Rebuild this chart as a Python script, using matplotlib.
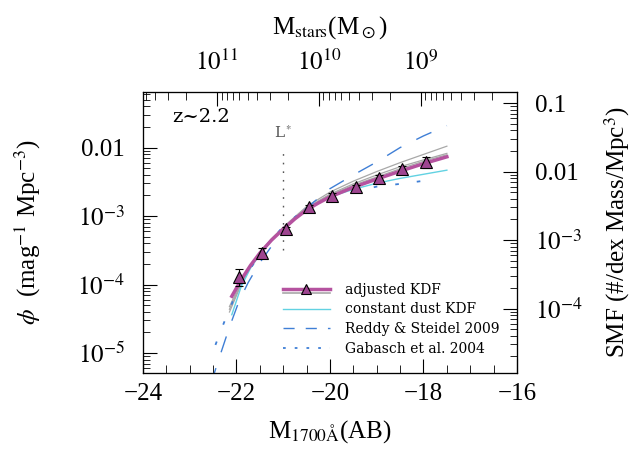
import numpy as np
import matplotlib
matplotlib.use('Agg')
import matplotlib.pyplot as plt
from matplotlib.lines import Line2D
from matplotlib.legend_handler import HandlerBase
from matplotlib.ticker import FuncFormatter, NullFormatter, MultipleLocator, LogLocator

plt.rcParams['font.family'] = 'Liberation Serif'
plt.rcParams['mathtext.fontset'] = 'stix'

# ---- data (log10 phi) ----
kdf_mag = [-21.95, -21.45, -20.95, -20.45, -19.95, -19.45, -18.95, -18.45, -17.95]
kdf_logphi = [-3.886, -3.536, -3.194, -2.864, -2.703, -2.577, -2.441, -2.314, -2.216]
kdf_loghi = [-3.774, -3.473, -3.156, -2.835, -2.669, -2.543, -2.401, -2.270, -2.134]
kdf_loglo = [-4.022, -3.600, -3.244, -2.912, -2.747, -2.620, -2.484, -2.368, -2.304]

adj_mag = [-22.1, -21.9, -21.7, -21.5, -21.25, -21.0, -20.75, -20.5, -20.25, -20.0, -19.5, -19.0, -18.5, -18.0, -17.5]
adj_logphi = [-4.17, -3.93, -3.72, -3.54, -3.35, -3.19, -3.04, -2.91, -2.81, -2.72, -2.58, -2.46, -2.345, -2.235, -2.135]

gray_mag = [-22.15, -21.9, -21.7, -21.5, -21.25, -21.0, -20.5, -20.0, -19.5, -19.0, -18.5, -18.0, -17.5]
gray_a = [-4.40, -4.00, -3.74, -3.53, -3.33, -3.16, -2.86, -2.65, -2.49, -2.35, -2.22, -2.10, -1.98]
gray_b = [-4.36, -3.98, -3.74, -3.54, -3.34, -3.17, -2.88, -2.68, -2.53, -2.40, -2.28, -2.18, -2.085]
gray_c = [-4.32, -3.96, -3.74, -3.55, -3.35, -3.18, -2.89, -2.69, -2.55, -2.43, -2.31, -2.20, -2.105]

cdust_mag = [-22.1, -21.9, -21.7, -21.5, -21.25, -21.0, -20.5, -20.0, -19.5, -19.0, -18.5, -18.0, -17.5]
cdust_logphi = [-4.44, -4.03, -3.76, -3.56, -3.36, -3.19, -2.90, -2.72, -2.61, -2.52, -2.45, -2.39, -2.33]

reddy_mag = [-22.55, -22.35, -22.15, -21.95, -21.75, -21.5, -21.0, -20.5, -20.0, -19.5, -19.0, -18.5, -18.0, -17.5]
reddy_logphi = [-5.45, -5.03, -4.62, -4.25, -3.97, -3.68, -3.20, -2.88, -2.60, -2.40, -2.21, -2.00, -1.83, -1.68]

gab_mag = [-22.45, -22.27, -22.11, -21.99, -21.5, -21.0, -20.5, -20.0, -19.5, -19.0, -18.5, -18.05]
gab_logphi = [-4.88, -4.56, -4.30, -4.08, -3.55, -3.15, -2.88, -2.72, -2.64, -2.57, -2.53, -2.49]

lstar_mag = -21.0
lstar_range = [-3.5, -2.07]

# conversions for the secondary axes
MAG_AT_1E11 = -22.42
MAG_PER_DEX = 2.18
SMF_LOG_OFFSET = 0.35

MAGENTA = '#b5529f'
TRI = '#9e4590'
GRAY = '#a8a8a8'
CYAN = '#62d2e2'
BLUE = '#3f7fd6'


def p(v):
    return 10 ** np.asarray(v)


def logm(mag):
    return 11 + (MAG_AT_1E11 - mag) / MAG_PER_DEX


fig = plt.figure(figsize=(6.42, 4.58), dpi=100)
ax = fig.add_axes([0.2227, 0.1856, 0.5826, 0.6134])
ax.set_yscale('log')
xlim = (-24, -16)
ylim_log = (-5.29, -1.19)
ax.set_xlim(*xlim)
ax.set_ylim(10 ** ylim_log[0], 10 ** ylim_log[1])

for ys in (gray_a, gray_b, gray_c):
    ax.plot(gray_mag, p(ys), color=GRAY, lw=0.9, zorder=2)
ax.plot(cdust_mag, p(cdust_logphi), color=CYAN, lw=1.0, zorder=2)
ax.plot(reddy_mag, p(reddy_logphi), color=BLUE, lw=1.0, dashes=(12, 12), zorder=2)
ax.plot(gab_mag, p(gab_logphi), color=BLUE, lw=1.3, dashes=(2, 10), zorder=2)
ax.plot(adj_mag, p(adj_logphi), color=MAGENTA, lw=2.5, zorder=3)

phi = p(kdf_logphi)
yerr = [phi - p(kdf_loglo), p(kdf_loghi) - phi]
ax.errorbar(kdf_mag, phi, yerr=yerr, fmt='none', ecolor='black', elinewidth=0.8,
            capsize=3, capthick=0.8, zorder=4)
ax.plot(kdf_mag, phi, ls='none', marker='^', ms=8, mfc=TRI, mec='black', mew=0.8, zorder=5)

# L* marker
ax.plot([lstar_mag, lstar_mag], p(lstar_range), color='#555555', lw=1.0, dashes=(1.2, 5))
ax.text(lstar_mag, 10 ** -1.79, r'L$^*$', ha='center', va='center', fontsize=11,
        family='DejaVu Serif', color='#555555')
ax.text(0.077, 0.91, 'z~2.2', transform=ax.transAxes, fontsize=14,
        family='DejaVu Serif', ha='left', va='center')

# axes cosmetics
ax.xaxis.set_major_locator(MultipleLocator(2))
ax.xaxis.set_minor_locator(MultipleLocator(0.5))
ax.yaxis.set_major_locator(LogLocator(base=10))
ax.yaxis.set_minor_locator(LogLocator(base=10, subs=np.arange(2, 10)))


def yfmt(v, pos):
    e = int(round(np.log10(v)))
    if e >= -2:
        return f'{v:g}'
    return rf'$10^{{{e}}}$'


ax.yaxis.set_major_formatter(FuncFormatter(yfmt))
ax.yaxis.set_minor_formatter(NullFormatter())
ax.tick_params(which='both', direction='in', top=False, right=False, labelsize=18)
ax.tick_params(axis='x', which='major', length=10, pad=7)
ax.tick_params(axis='x', which='minor', length=6)
ax.tick_params(axis='y', which='major', length=10, pad=13)
ax.tick_params(axis='y', which='minor', length=5)
ax.set_xlabel(r'M$_{\mathrm{1700Å}}$(AB)', fontsize=18, labelpad=10)
ax.set_ylabel(r'$\phi$  (mag$^{-1}$ Mpc$^{-3}$)', fontsize=18)
ax.yaxis.set_label_coords(-0.267, 0.5)

# right axis: SMF
axr = ax.twinx()
axr.set_yscale('log')
axr.set_ylim(10 ** (ylim_log[0] + SMF_LOG_OFFSET), 10 ** (ylim_log[1] + SMF_LOG_OFFSET))
axr.yaxis.set_major_locator(LogLocator(base=10))
axr.yaxis.set_minor_locator(LogLocator(base=10, subs=np.arange(2, 10)))
axr.yaxis.set_major_formatter(FuncFormatter(yfmt))
axr.yaxis.set_minor_formatter(NullFormatter())
axr.tick_params(which='both', direction='in', labelsize=18)
axr.tick_params(which='major', length=10, pad=13)
axr.tick_params(which='minor', length=5)
axr.set_ylabel(r'SMF (#/dex Mass/Mpc$^3$)', fontsize=18, labelpad=14)

# top axis: stellar mass
axt = ax.twiny()
axt.set_xscale('log')
axt.set_xlim(10 ** logm(xlim[0]), 10 ** logm(xlim[1]))
axt.xaxis.set_major_locator(LogLocator(base=10))
axt.xaxis.set_minor_locator(LogLocator(base=10, subs=np.arange(2, 10)))
axt.xaxis.set_major_formatter(FuncFormatter(lambda v, pos: rf'$10^{{{int(round(np.log10(v)))}}}$'))
axt.xaxis.set_minor_formatter(NullFormatter())
axt.tick_params(which='both', direction='in', labelsize=18)
axt.tick_params(which='major', length=10, pad=12)
axt.tick_params(which='minor', length=6)
axt.set_xlabel(r'M$_{\mathrm{stars}}$(M$_\odot$)', fontsize=18, labelpad=12)


class KDFHandler(HandlerBase):
    def create_artists(self, legend, orig, xd, yd, w, h, fontsize, trans):
        y = h / 2 - yd
        g = Line2D([-xd, -xd + w], [y - 3, y - 3], color=GRAY, lw=1.2)
        l = Line2D([-xd, -xd + w], [y, y], color=MAGENTA, lw=2.5)
        m = Line2D([-xd + w / 2], [y], ls='none', marker='^', ms=7, mfc=TRI, mec='black', mew=0.8)
        for a in (g, l, m):
            a.set_transform(trans)
        return [g, l, m]


kdf_handle = Line2D([], [], color=MAGENTA)
handles = [kdf_handle,
           Line2D([], [], color=CYAN, lw=1.0),
           Line2D([], [], color=BLUE, lw=1.0, dashes=(8, 8)),
           Line2D([], [], color=BLUE, lw=1.3, dashes=(1.5, 5))]
labels = ['adjusted KDF', 'constant dust KDF', 'Reddy & Steidel 2009', 'Gabasch et al. 2004']
leg = ax.legend(handles, labels, handler_map={kdf_handle: KDFHandler()},
                loc='lower left', bbox_to_anchor=(0.374, 0.06), frameon=False,
                borderpad=0, borderaxespad=0, handlelength=3.4, handletextpad=1.1,
                labelspacing=0.42, prop={'family': 'DejaVu Serif', 'size': 10})

fig.savefig('out.png', dpi=100)
